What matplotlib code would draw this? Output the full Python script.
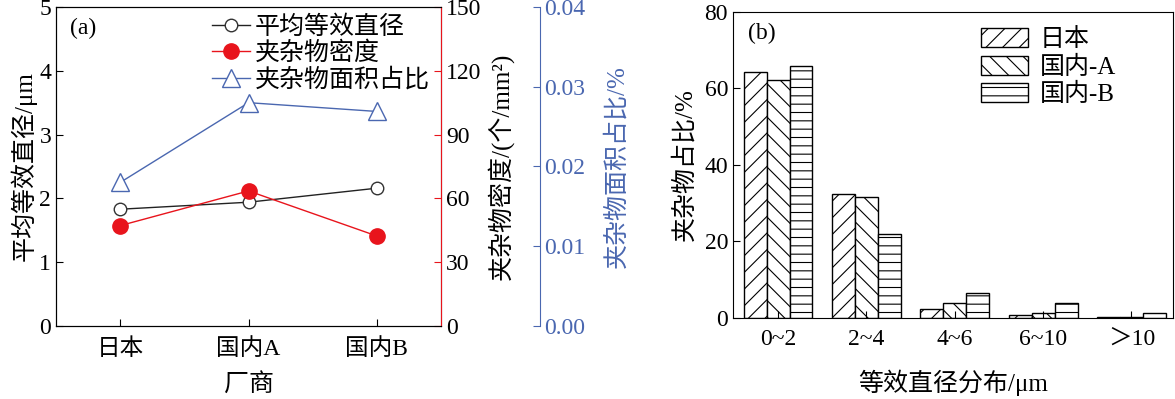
import matplotlib
matplotlib.use('Agg')
import numpy as np
from matplotlib import pyplot as plt

plt.rcParams['font.family'] = ['Liberation Serif', 'Noto Sans CJK SC']
plt.rcParams['hatch.linewidth'] = 0.8
plt.rcParams['axes.unicode_minus'] = False

# (a) data
makers = ['日本', '国内A', '国内B']
avg_diam = [1.83, 1.94, 2.16]          # μm
density = [47.2, 63.5, 42.3]           # 个/mm2
area_ratio = [0.0180, 0.0280, 0.0269]  # %

# (b) data
size_bins = ['0~2', '2~4', '4~6', '6~10', '＞10']
share_jp = [64.2, 32.3, 2.4, 0.9, 0.2]
share_a = [62.2, 31.7, 3.9, 1.3, 0.3]
share_b = [65.9, 21.9, 6.5, 3.9, 1.3]
bar_names = ['日本', '国内-A', '国内-B']

blue = '#4a67b0'
red = '#e8141c'
fs = 17    # tick labels
lfs = 18   # axis labels

fig = plt.figure(figsize=(11.75, 3.99), dpi=100)

# ---- panel (a)
ax1 = fig.add_axes([0.0477, 0.183, 0.3277, 0.7995])
x = np.arange(len(makers))
l1, = ax1.plot(x, avg_diam, '-o', color='#222222', lw=1, ms=9, mfc='white',
               mec='#333333', mew=1, label='平均等效直径')
ax1.set_xlim(-0.5, 2.5)
ax1.set_ylim(0, 5)
ax1.set_xticks(x)
ax1.set_xticklabels(makers)
ax1.set_yticks(range(6))
ax1.tick_params(direction='in', labelsize=fs, length=5)
ax1.tick_params(axis='x', pad=9)
ax1.set_ylabel('平均等效直径/μm', fontsize=lfs, labelpad=2)
ax1.set_xlabel('厂商', fontsize=lfs, labelpad=9)
ax1.text(0.035, 0.965, '(a)', transform=ax1.transAxes, fontsize=fs, va='top')

ax2 = ax1.twinx()
l2, = ax2.plot(x, density, '-o', color=red, lw=1, ms=11, mfc=red, mec=red,
               label='夹杂物密度')
ax2.set_ylim(0, 150)
ax2.set_yticks(range(0, 151, 30))
ax2.spines['right'].set_color(red)
ax2.tick_params(axis='y', direction='in', colors=red, labelcolor='black',
                labelsize=fs, length=5)
ax2.set_ylabel('夹杂物密度/(个/mm²)', fontsize=lfs, labelpad=4)

ax3 = ax1.twinx()
ax3.spines['right'].set_position(('axes', 1.257))
ax3.spines['right'].set_color(blue)
for s in ['top', 'left', 'bottom']:
    ax3.spines[s].set_visible(False)
l3, = ax3.plot(x, area_ratio, '-^', color=blue, lw=1, ms=13, mfc='white',
               mec=blue, mew=1, label='夹杂物面积占比')
ax3.set_ylim(0, 0.04)
ax3.set_yticks([0, 0.01, 0.02, 0.03, 0.04])
ax3.set_yticklabels(['0.00', '0.01', '0.02', '0.03', '0.04'])
ax3.tick_params(axis='y', direction='in', colors=blue, labelsize=fs, length=5, pad=3)
ax3.set_ylabel('夹杂物面积占比/%', fontsize=lfs, color=blue, labelpad=14)

ax1.legend(handles=[l1, l2, l3], loc='upper right', frameon=False, fontsize=lfs,
           handlelength=1.5, handletextpad=0.2, borderaxespad=0.05, labelspacing=0.12,
           bbox_to_anchor=(1.0, 1.01))

# ---- panel (b)
ax4 = fig.add_axes([0.6238, 0.203, 0.3745, 0.767])
xb = np.arange(len(size_bins))
w = 0.26
hatches = ['//', '\\\\', '--']
for k, (vals, name) in enumerate(zip([share_jp, share_a, share_b], bar_names)):
    ax4.bar(xb + (k - 1) * w, vals, w, color='white', edgecolor='black', lw=1,
            hatch=hatches[k], label=name)
ax4.set_xlim(-0.51, 4.47)
ax4.set_ylim(0, 80)
ax4.set_xticks(xb)
ax4.set_xticklabels(size_bins)
ax4.set_yticks(range(0, 81, 20))
ax4.tick_params(direction='in', labelsize=fs, length=5)
ax4.tick_params(axis='x', pad=8)
ax4.set_ylabel('夹杂物占比/%', fontsize=lfs, labelpad=6)
ax4.set_xlabel('等效直径分布/μm', fontsize=lfs, labelpad=14)
ax4.text(0.035, 0.965, '(b)', transform=ax4.transAxes, fontsize=fs, va='top')
ax4.legend(loc='upper right', frameon=False, fontsize=lfs, handlelength=1.9,
           handleheight=0.8, handletextpad=0.45, borderaxespad=0.25,
           labelspacing=0.17, bbox_to_anchor=(0.907, 1.0))

fig.savefig('out.png', dpi=100)
